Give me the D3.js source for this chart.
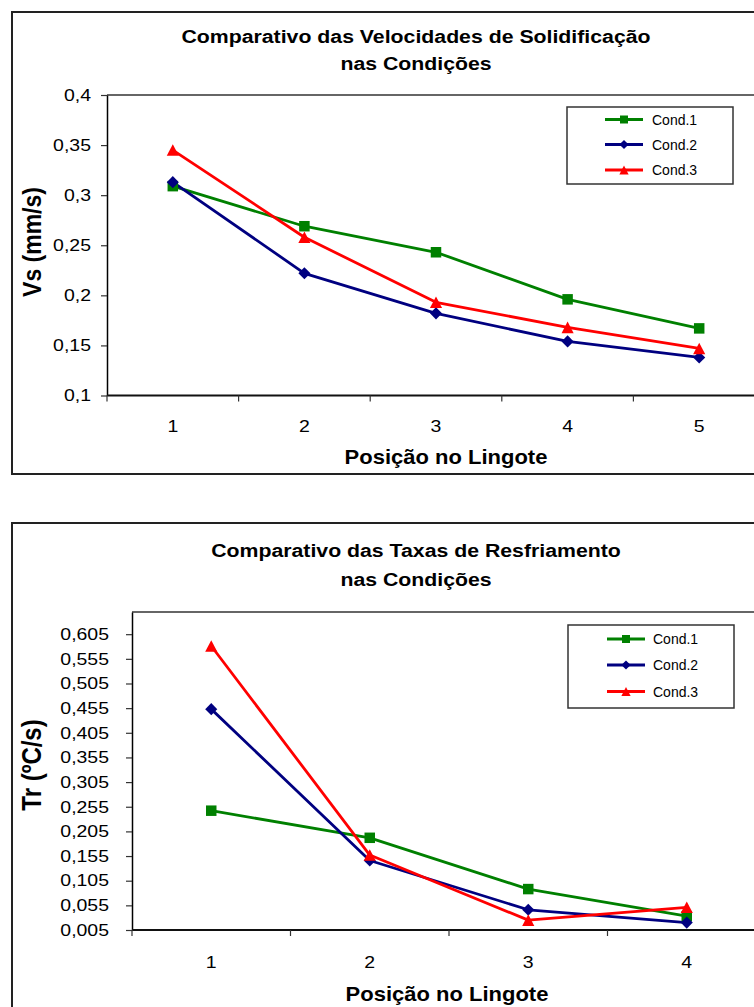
<!DOCTYPE html>
<html>
<head>
<meta charset="utf-8">
<script src="https://cdn.jsdelivr.net/npm/d3@7"></script>
<style>
  html, body { margin: 0; padding: 0; background: #fff; }
  svg { display: block; font-family: "Liberation Sans", Arial, sans-serif; }
</style>
</head>
<body>
<svg id="chart" width="754" height="1007"></svg>
<script>
// ---------- data ----------
const seriesNames = ["Cond.1", "Cond.2", "Cond.3"];
const seriesColors = ["#008000", "#000080", "#ff0000"];
const seriesMarkers = ["square", "diamond", "triangle"];

// Chart 1: Velocidades de Solidificação
const vsCategories = ["1", "2", "3", "4", "5"];
const vsCond1 = [0.309, 0.269, 0.243, 0.196, 0.167];
const vsCond2 = [0.313, 0.222, 0.182, 0.154, 0.138];
const vsCond3 = [0.345, 0.258, 0.193, 0.168, 0.147];
const vsTicks = [0.1, 0.15, 0.2, 0.25, 0.3, 0.35, 0.4];
const vsDomain = [0.1, 0.4];

// Chart 2: Taxas de Resfriamento
const trCategories = ["1", "2", "3", "4"];
const trCond1 = [0.247, 0.192, 0.088, 0.033];
const trCond2 = [0.453, 0.146, 0.046, 0.020];
const trCond3 = [0.581, 0.157, 0.025, 0.051];
const trTicks = [0.005, 0.055, 0.105, 0.155, 0.205, 0.255, 0.305, 0.355, 0.405, 0.455, 0.505, 0.555, 0.605];
const trDomain = [0.005, 0.65];

// ---------- drawing ----------
const svg = d3.select("#chart");
svg.append("rect").attr("width", 754).attr("height", 1007).attr("fill", "#fff");

const fmt = v => String(v).replace(".", ",");

function markerPath(type, size) {
  const s = size / 2;
  if (type === "square") return `M${-s},${-s}H${s}V${s}H${-s}Z`;
  if (type === "diamond") { const d = s * 1.15; return `M0,${-d}L${d},0L0,${d}L${-d},0Z`; }
  const h = s * 1.1; return `M0,${-h}L${h * 1.05},${h}L${-h * 1.05},${h}Z`;
}

function stretchedText(g, x, y, txt, opts) {
  return g.append("text")
    .attr("transform", `translate(${x},${y}) scale(${opts.sx || 1},1)` + (opts.rotate ? ` rotate(${opts.rotate})` : ""))
    .attr("text-anchor", opts.anchor || "middle")
    .attr("font-size", opts.size)
    .attr("font-weight", opts.bold ? "bold" : "normal")
    .attr("fill", "#000")
    .text(txt);
}

function drawChart(cfg) {
  const g = svg.append("g");
  g.append("rect")
    .attr("x", cfg.frame.x).attr("y", cfg.frame.y)
    .attr("width", cfg.frame.w).attr("height", cfg.frame.h)
    .attr("fill", "#fff").attr("stroke", "#222").attr("stroke-width", 2);

  cfg.titles.forEach((t, i) => {
    stretchedText(g, cfg.titleX, cfg.titleY[i], t, { size: 18.5, bold: true, sx: 1.15 });
  });

  const x = d3.scaleBand().domain(cfg.categories).range([cfg.plot.left, cfg.plot.right]);
  const y = d3.scaleLinear().domain(cfg.domain).range([cfg.plot.bottom, cfg.plot.top]);

  g.append("line")
    .attr("x1", cfg.plot.left).attr("x2", cfg.plot.right)
    .attr("y1", cfg.plot.top).attr("y2", cfg.plot.top)
    .attr("stroke", "#333").attr("stroke-width", 1.5);

  const yAxis = g.append("g")
    .attr("transform", `translate(${cfg.plot.left},0)`)
    .call(d3.axisLeft(y).tickValues(cfg.ticks).tickFormat(fmt).tickSize(6).tickSizeOuter(0).tickPadding(cfg.yPad));
  yAxis.select(".domain").attr("stroke", "#000").attr("stroke-width", 1.5);
  yAxis.selectAll(".tick line").attr("stroke", "#333").attr("stroke-width", 1.2);
  yAxis.selectAll(".tick text")
    .attr("font-size", 16.5).attr("font-family", "Liberation Sans, Arial, sans-serif")
    .attr("fill", "#000")
    .attr("transform", "scale(1.18,1)")
    .attr("x", -(6 + cfg.yPad) / 1.18);

  const bounds = cfg.categories.map(c => x(c)).concat([cfg.plot.right]);
  g.append("line")
    .attr("x1", cfg.plot.left).attr("x2", cfg.plot.right)
    .attr("y1", cfg.plot.bottom).attr("y2", cfg.plot.bottom)
    .attr("stroke", "#111").attr("stroke-width", 2);
  g.selectAll(".xtick").data(bounds).enter().append("line")
    .attr("x1", d => d).attr("x2", d => d)
    .attr("y1", cfg.plot.bottom).attr("y2", cfg.plot.bottom + 6)
    .attr("stroke", "#333").attr("stroke-width", 1.2);
  cfg.categories.forEach(c => {
    stretchedText(g, x(c) + x.bandwidth() / 2, cfg.xLabelY, c, { size: 16.5, sx: 1.18 });
  });

  stretchedText(g, cfg.xTitleX, cfg.xTitleY, "Posição no Lingote", { size: 20, bold: true, sx: 1.1 });
  stretchedText(g, cfg.yTitleX, cfg.yTitleY, cfg.yTitle, { size: cfg.yTitleSize, bold: true, sx: 1.13, rotate: -90 });

  const line = d3.line().x((d, i) => x(cfg.categories[i]) + x.bandwidth() / 2).y(d => y(d));
  cfg.series.forEach((vals, si) => {
    g.append("path").datum(vals)
      .attr("d", line)
      .attr("fill", "none")
      .attr("stroke", seriesColors[si])
      .attr("stroke-width", 2.8)
      .attr("stroke-linejoin", "round");
  });
  cfg.series.forEach((vals, si) => {
    g.selectAll(null).data(vals).enter().append("path")
      .attr("transform", (d, i) => `translate(${x(cfg.categories[i]) + x.bandwidth() / 2},${y(d)})`)
      .attr("d", markerPath(seriesMarkers[si], 10.5))
      .attr("fill", seriesColors[si]);
  });

  const L = cfg.legend;
  g.append("rect")
    .attr("x", L.x).attr("y", L.y).attr("width", L.w).attr("height", L.h)
    .attr("fill", "#fff").attr("stroke", "#333").attr("stroke-width", 1.5);
  seriesNames.forEach((name, si) => {
    const ly = L.rows[si];
    g.append("line")
      .attr("x1", L.lineX1).attr("x2", L.lineX2).attr("y1", ly).attr("y2", ly)
      .attr("stroke", seriesColors[si]).attr("stroke-width", 2.8);
    g.append("path")
      .attr("transform", `translate(${(L.lineX1 + L.lineX2) / 2},${ly})`)
      .attr("d", markerPath(seriesMarkers[si], 8))
      .attr("fill", seriesColors[si]);
    g.append("text")
      .attr("x", L.textX).attr("y", ly + 5)
      .attr("font-size", 14).attr("fill", "#000")
      .text(name);
  });
}

drawChart({
  frame: { x: 12, y: 12, w: 770, h: 462 },
  titles: ["Comparativo das Velocidades de Solidificação", "nas Condições"],
  titleX: 416, titleY: [43, 70],
  categories: vsCategories,
  domain: vsDomain,
  ticks: vsTicks,
  yPad: 10,
  plot: { left: 107, right: 765, top: 95, bottom: 395.5 },
  series: [vsCond1, vsCond2, vsCond3],
  xLabelY: 432, xTitleX: 446, xTitleY: 464,
  yTitle: "Vs (mm/s)", yTitleX: 41, yTitleY: 242, yTitleSize: 23,
  legend: { x: 567, y: 107, w: 166, h: 77, rows: [119.5, 144.5, 170], lineX1: 605, lineX2: 643, textX: 652 }
});

drawChart({
  frame: { x: 12, y: 523, w: 770, h: 500 },
  titles: ["Comparativo das Taxas de Resfriamento", "nas Condições"],
  titleX: 416, titleY: [557, 586],
  categories: trCategories,
  domain: trDomain,
  ticks: trTicks,
  yPad: 17,
  plot: { left: 132, right: 766, top: 612, bottom: 930 },
  series: [trCond1, trCond2, trCond3],
  xLabelY: 968, xTitleX: 447, xTitleY: 1001,
  yTitle: "Tr (ºC/s)", yTitleX: 41, yTitleY: 765, yTitleSize: 24,
  legend: { x: 568, y: 625, w: 166, h: 83, rows: [639, 665, 691.5], lineX1: 607, lineX2: 645, textX: 653 }
});
</script>
</body>
</html>
